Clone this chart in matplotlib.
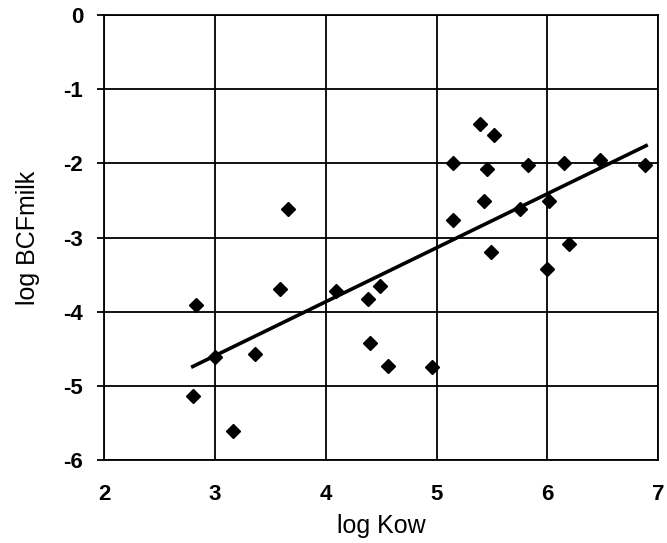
import matplotlib.pyplot as plt

plt.rcParams["font.family"] = ["Liberation Sans", "DejaVu Sans"]

# observed data (log Kow, log BCFmilk)
log_kow = [3.66, 5.39, 5.52, 5.15, 5.45, 5.82, 6.15, 6.47, 6.88, 5.43,
           5.15, 5.75, 6.01, 5.49, 6.19, 6.00, 2.83, 3.59, 4.09, 4.38,
           4.49, 3.00, 3.36, 2.80, 3.16, 4.40, 4.56, 4.96]
log_bcf = [-2.62, -1.47, -1.62, -2.00, -2.08, -2.02, -2.00, -1.96, -2.02, -2.50,
           -2.76, -2.62, -2.51, -3.20, -3.09, -3.43, -3.91, -3.70, -3.72, -3.83,
           -3.66, -4.61, -4.57, -5.14, -5.61, -4.42, -4.73, -4.74]

# regression line end points
fit_x = [2.80, 6.89]
fit_y = [-4.74, -1.76]

xticks = [2, 3, 4, 5, 6, 7]
yticks = [0, -1, -2, -3, -4, -5, -6]

fig = plt.figure(figsize=(6.67, 5.43), dpi=100)
ax = fig.add_axes([0.156, 0.153, 0.831, 0.819])

ax.plot(fit_x, fit_y, color="black", linewidth=2.6, zorder=3)
ax.plot(log_kow, log_bcf, linestyle="none", marker="D", markersize=6.8,
        color="black", zorder=4)

ax.set_xlim(2, 7)
ax.set_ylim(-6, 0)
ax.set_xticks(xticks)
ax.set_yticks(yticks)
ax.set_xticklabels([str(t) for t in xticks])
ax.set_yticklabels([str(t) for t in yticks])
ax.grid(True, color="black", linewidth=1.3)
ax.set_axisbelow(True)
for s in ax.spines.values():
    s.set_color("black")
    s.set_linewidth(1.3)

ax.tick_params(axis="y", direction="out", length=5, width=1.3, labelsize=16, pad=10)
ax.tick_params(axis="x", length=0, labelsize=16, pad=17)
for lab in ax.get_xticklabels() + ax.get_yticklabels():
    lab.set_fontweight("bold")

ax.set_xlabel("log Kow", fontsize=18, labelpad=7)
ax.set_ylabel("log BCFmilk", fontsize=18, labelpad=17)

fig.savefig("out.png", dpi=100)
